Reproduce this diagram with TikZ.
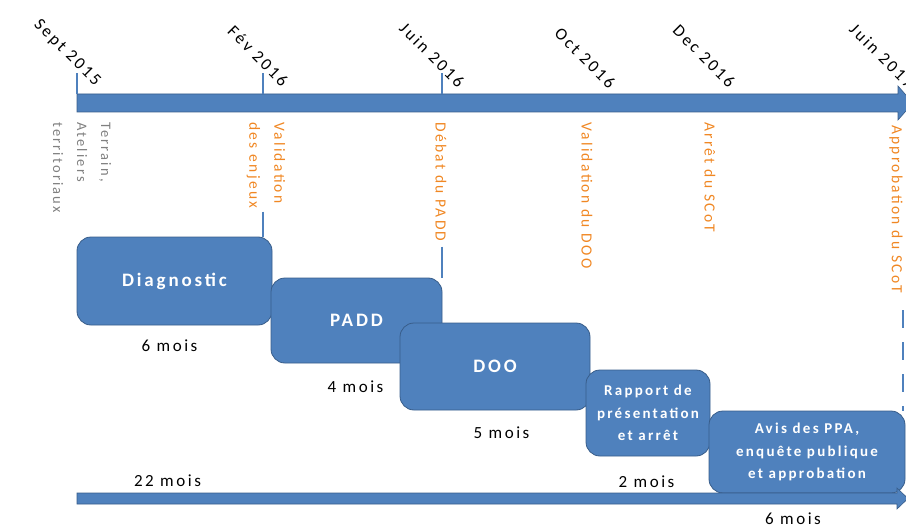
\documentclass[tikz,border=0pt]{standalone}
\usepackage{fontspec}
\setmainfont{Carlito}[LetterSpace=15]
\usepackage{xcolor}
\definecolor{phasefill}{RGB}{79,129,189}
\definecolor{phaseline}{RGB}{56,93,138}
\definecolor{jalonc}{RGB}{240,135,35}
\definecolor{terrainc}{RGB}{128,128,128}

\begin{document}
\begin{tikzpicture}[x=1pt,y=-1pt]
    \tikzstyle{phase}=[draw=phaseline,fill=phasefill,rounded corners=14pt,text=white,align=center,line width=0.8pt,font=\bfseries\fontsize{19}{22}\selectfont]
    \tikzstyle{petit}=[font=\bfseries\fontsize{15}{22.5}\selectfont]
    \tikzstyle{date}=[rotate=-45,inner sep=0pt,font=\fontsize{17}{20}\selectfont]
    \tikzstyle{jalon}=[rotate=-90,anchor=west,inner sep=0pt,align=left,text=jalonc,font=\fontsize{15.5}{25}\selectfont]
    \tikzstyle{duree}=[anchor=base,font=\fontsize{17}{20}\selectfont]
    \tikzstyle{fleche}=[draw=phaseline,fill=phasefill,line width=0.6pt]
    \tikzstyle{trait}=[draw=phasefill,line width=1.3pt]
    \useasboundingbox (0,0) rectangle (906,527);

    % frise du haut
    \path[fleche] (77,94) -- (898,94) -- (898,86) -- (913,103) -- (898,120) -- (898,112) -- (77,112) -- cycle;
    \coordinate (sept) at (77,94);
    \coordinate (fev) at (263,94);
    \coordinate (juin) at (442,94);
    \coordinate (appro) at (903,310);
    \foreach \t in {sept,fev,juin}
      \draw[trait] (\t) -- ++(0,-21);

    \node[date] (d1) at (67,53) {Sept 2015};
    \node[date] (d2) at (258,56) {Fév 2016};
    \node[date] (d3) at (432,55) {Juin 2016};
    \node[date] (d4) at (585,58) {Oct 2016};
    \node[date] (d5) at (704,56) {Dec 2016};
    \node[date] (d6) at (882,56) {Juin 2017};

    \node[jalon,text=terrainc,font=\fontsize{14.5}{24}\selectfont] (j0) at (82,122) {Terrain,\\Ateliers\\territoriaux};
    \node[jalon] (j1) at (266,122) {Validation\\des enjeux};
    \node[jalon] (j2) at (441,122) {Débat du PADD};
    \node[jalon] (j3) at (587,122) {Validation du DOO};
    \node[jalon] (j4) at (710,122) {Arrêt du SCoT};
    \node[jalon] (j5) at (896,125) {Approbation du SCoT};

    % phases
    \node[phase,minimum width=195pt,minimum height=88pt] (diag) at (174.5,281) {Diagnostic};
    \node[phase,minimum width=171pt,minimum height=85pt] (padd) at (356.5,320.5) {PADD};
    \node[phase,minimum width=190pt,minimum height=87pt] (doo) at (495,366.5) {DOO};
    \node[phase,petit,minimum width=124pt,minimum height=86pt] (rapport) at (648,413) {Rapport de\\présentation\\et arrêt};
    \node[phase,petit,minimum width=196pt,minimum height=82pt] (avis) at (807,452) {Avis des PPA,\\enquête publique\\et approbation};

    \draw[trait] (j1.east -| fev) ++(0,3) -- (diag.north -| fev);
    \draw[trait] (j2.east -| juin) ++(0,5) -- (padd.north -| juin);
    \draw[trait,dash pattern=on 18pt off 14pt] (appro) -- (appro |- avis.north);

    \node[duree] (m1) at (169.5,351) {6 mois};
    \node[duree] (m2) at (355.5,392) {4 mois};
    \node[duree] (m3) at (501.5,438) {5 mois};
    \node[duree] (m4) at (646.5,487) {2 mois};
    \node[duree] (m5) at (793,524) {6 mois};
    \node[duree] (total) at (167.5,486) {22 mois};

    % frise du bas
    \path[fleche] (77,493) -- (897,493) -- (897,488) -- (908,498.5) -- (897,509) -- (897,504) -- (77,504) -- cycle;
\end{tikzpicture}
\end{document}
